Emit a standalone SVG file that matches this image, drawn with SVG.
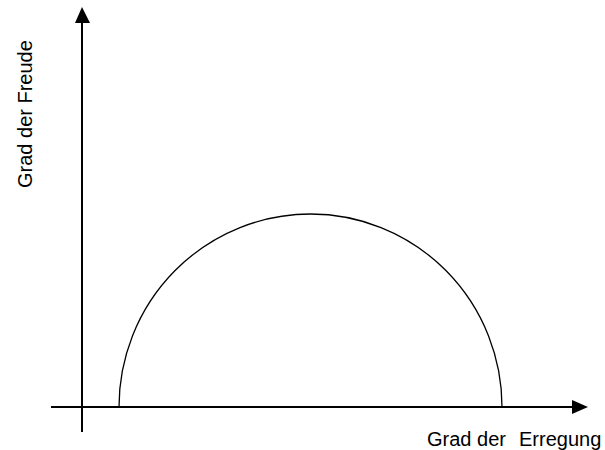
<svg xmlns="http://www.w3.org/2000/svg" width="605" height="450" viewBox="0 0 605 450">
<style>
.ax{stroke:#000;stroke-width:2;fill:none}
.lbl{font-family:"Liberation Sans",Arial,sans-serif;font-size:20px;fill:#000}
</style>
<rect width="605" height="450" fill="#fff"/>
<g id="connectors">
<line class="ax" x1="82" y1="432" x2="82" y2="23"/>
<path d="M82,7 L75,23 L90,23 z" fill="#000"/>
<line class="ax" x1="51" y1="407" x2="573" y2="407"/>
<path d="M588,407 L572,400 L572,414 z" fill="#000"/>
</g>
<g id="curve">
<path d="M119,407 A191.5,193 0 0 1 502,407" fill="none" stroke="#000" stroke-width="1.3"/>
</g>
<g id="label-x">
<text class="lbl" x="427" y="446">Grad der <tspan x="519">Erregung</tspan></text>
</g>
<g id="label-y">
<text class="lbl" transform="translate(32,188) rotate(-90)">Grad der Freude</text>
</g>
</svg>
